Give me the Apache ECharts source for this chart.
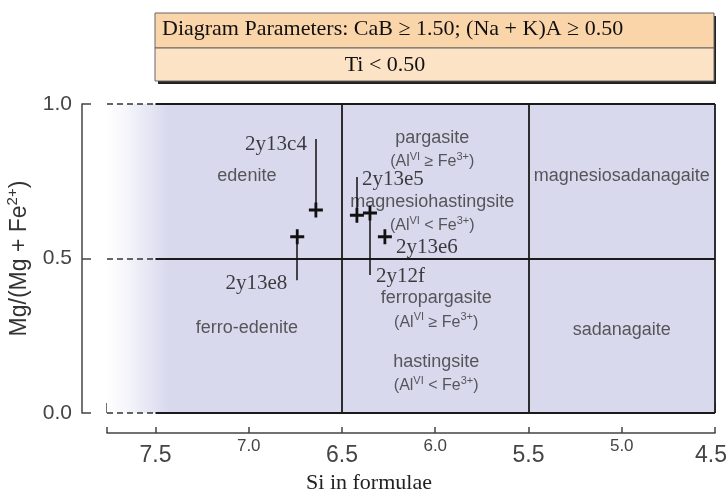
<!DOCTYPE html>
<html><head><meta charset="utf-8">
<script src="https://cdn.jsdelivr.net/npm/echarts@6/dist/echarts.min.js"></script>
<style>html,body{margin:0;padding:0;background:#fff}#c{width:728px;height:491px}</style>
</head><body><div id="c"></div>
<script>
// ---- data ----
const majorTickLabels = ['7.5', '6.5', '5.5', '4.5'];
const minorTickLabels = ['7.0', '6.0', '5.0'];
const yTickLabels = ['0.0', '0.5', '1.0'];

const pointNames = ['2y13c4', '2y13e8', '2y13e5', '2y12f', '2y13e6'];
const siValues   = [6.64, 6.74, 6.42, 6.35, 6.27];
const mgValues   = [0.657, 0.57, 0.64, 0.647, 0.57];
const leaderEnds = [0.887, 0.43, 0.764, 0.447, null];

const fieldNames = ['edenite', 'ferro-edenite', 'pargasite', 'magnesiohastingsite',
                    'ferropargasite', 'hastingsite', 'magnesiosadanagaite', 'sadanagaite'];
const fieldAlRelation = ['', '', '≥', '<', '≥', '<', '', ''];
const fieldSi = [7.01, 7.01, 6.016, 6.016, 5.995, 5.995, 5.0, 5.0];
const fieldMg = [0.767, 0.275, 0.851, 0.644, 0.333, 0.126, 0.767, 0.269];

const boundarySi = [6.5, 5.5, 4.5];
const boundaryMg = [1.0, 0.5, 0.0];
const fieldEdgeSi = 7.5;
const siMin = 4.5, siMax = 7.76;

const headerLine1 = 'Diagram Parameters: CaB ≥ 1.50; (Na + K)A ≥ 0.50';
const headerLine2 = 'Ti < 0.50';
const xTitle = 'Si in formulae';

// ---- styles ----
const SANS = '"Liberation Sans", Arial, sans-serif';
const SERIF = '"Liberation Serif", "Times New Roman", serif';
const lavender = '#d9d9ee';
const labelPlacement = [
  {position: 'left',  distance: 9,  offset: [0, 6]},
  {position: 'left',  distance: 10, offset: [0, 3]},
  {position: 'right', distance: 5,  offset: [0, 3]},
  {position: 'right', distance: 6,  offset: [0, 2]},
  {position: 'right', distance: 11, offset: [0, 11]}
];

// ---- build ----
const boundaryLines = [];
boundaryMg.forEach(m => {
  boundaryLines.push([{coord: [siMax, m], lineStyle: {type: [6, 4], width: 1.5, color: '#333'}}, {coord: [fieldEdgeSi, m]}]);
  boundaryLines.push([{coord: [fieldEdgeSi, m]}, {coord: [siMin, m]}]);
});
boundarySi.forEach(s => {
  boundaryLines.push([{coord: [s, 0]}, {coord: [s, 1]}]);
});

const leaderLines = [];
pointNames.forEach((n, i) => {
  if (leaderEnds[i] !== null) leaderLines.push([{coord: [siValues[i], mgValues[i]]}, {coord: [siValues[i], leaderEnds[i]]}]);
});

const pointData = pointNames.map((n, i) => [siValues[i], mgValues[i]]);
const labelData = pointNames.map((n, i) => ({
  value: [siValues[i], leaderEnds[i] !== null ? leaderEnds[i] : mgValues[i]],
  name: n,
  label: Object.assign({show: true, formatter: n}, labelPlacement[i])
}));

const fieldData = fieldNames.map((n, i) => {
  let f = '{m|' + n + '}';
  if (fieldAlRelation[i]) f += '\n{s|(Al}{sup|VI}{s| ' + fieldAlRelation[i] + ' Fe}{sup|3+}{s|)}';
  return {value: [fieldSi[i], fieldMg[i]], name: n, label: {formatter: f}};
});

const chart = echarts.init(document.getElementById('c'));
chart.setOption({
  animation: false,
  grid: {left: 107, right: 13, top: 104, bottom: 78, containLabel: false, outerBoundsMode: 'none'},
  xAxis: [{
    type: 'value', min: siMin, max: siMax, interval: 0.5, inverse: true,
    position: 'bottom', offset: 20,
    axisLine: {show: true, onZero: false, lineStyle: {color: '#444', width: 1.5}},
    axisTick: {show: true, inside: true, length: 6, lineStyle: {color: '#444', width: 1.5}},
    axisLabel: {
      fontSize: 17, color: '#444', fontFamily: SANS, margin: 5,
      formatter: v => { const t = v.toFixed(1); return minorTickLabels.includes(t) ? t : ''; }
    },
    splitLine: {show: false}
  }, {
    type: 'value', min: 0, max: siMax - siMin, interval: 1, inverse: true,
    position: 'bottom', offset: 20,
    axisLine: {show: false},
    axisTick: {show: true, inside: true, length: 10, lineStyle: {color: '#444', width: 1.5}},
    axisLabel: {
      fontSize: 23, color: '#444', fontFamily: SANS, margin: 11,
      formatter: v => {
        const t = (v + siMin).toFixed(1);
        if (!majorTickLabels.includes(t)) return '';
        return v === 0 ? '{r|' + t + '}' : t;
      },
      rich: {r: {fontSize: 23, color: '#444', fontFamily: SANS, padding: [0, 8, 0, 0]}}
    },
    splitLine: {show: false},
    name: xTitle, nameLocation: 'middle', nameGap: 35,
    nameTextStyle: {fontSize: 22, fontFamily: SERIF, color: '#222', padding: [0, 84, 0, 0]}
  }],
  yAxis: {
    type: 'value', min: 0, max: 1, interval: 0.5, offset: 25,
    axisLine: {show: true, onZero: false, lineStyle: {color: '#444', width: 1.5}},
    axisTick: {show: true, inside: true, length: 9, lineStyle: {color: '#444', width: 1.5}},
    axisLabel: {
      fontSize: 21, color: '#444', fontFamily: SANS, margin: 10,
      formatter: v => { const t = v.toFixed(1); return yTickLabels.includes(t) ? t : ''; }
    },
    splitLine: {show: false},
    name: '{n|Mg/(Mg + Fe}{sup|2+}{n|)}', nameLocation: 'middle', nameGap: 48,
    nameTextStyle: {
      rich: {
        n: {fontSize: 23, fontFamily: SANS, color: '#333'},
        sup: {fontSize: 15, fontFamily: SANS, color: '#333', padding: [0, 0, 14, 0]}
      }
    }
  },
  graphic: [
    {type: 'rect', shape: {x: 158, y: 16, width: 558, height: 68}, style: {fill: '#222'}, z: 10},
    {type: 'rect', shape: {x: 155, y: 13, width: 559, height: 35}, style: {fill: '#fbd5aa', stroke: '#666', lineWidth: 1}, z: 11},
    {type: 'rect', shape: {x: 155, y: 48, width: 559, height: 33}, style: {fill: '#fde3c6', stroke: '#666', lineWidth: 1}, z: 11},
    {type: 'text', style: {text: headerLine1, x: 162, y: 29, font: '22px ' + SERIF, fill: '#111', textAlign: 'left', verticalAlign: 'middle'}, z: 12},
    {type: 'text', style: {text: headerLine2, x: 385, y: 65, font: '22px ' + SERIF, fill: '#111', textAlign: 'center', verticalAlign: 'middle'}, z: 12}
  ],
  series: [
    {
      name: 'background', type: 'scatter', data: [], silent: true, z: 1,
      markArea: {
        silent: true,
        itemStyle: {
          color: {type: 'linear', x: 0, y: 0, x2: 1, y2: 0,
            colorStops: [{offset: 0, color: '#ffffff'}, {offset: 0.03, color: '#f6f6fb'}, {offset: 0.1, color: lavender}, {offset: 1, color: lavender}]}
        },
        data: [[{coord: [siMax, 0]}, {coord: [siMin, 1]}]]
      }
    },
    {
      name: 'boundaries', type: 'scatter', data: [], silent: true, z: 2,
      markLine: {
        silent: true, symbol: ['none', 'none'], label: {show: false},
        lineStyle: {type: 'solid', color: '#1a1a1a', width: 1.8},
        data: boundaryLines
      }
    },
    {
      name: 'fields', type: 'scatter', data: fieldData, symbolSize: 0, silent: true, z: 3,
      label: {
        show: true, position: 'inside', align: 'center', verticalAlign: 'middle',
        rich: {
          m: {fontSize: 18, fontFamily: SANS, color: '#333', lineHeight: 24, align: 'center'},
          s: {fontSize: 16, fontFamily: SANS, color: '#333', lineHeight: 24},
          sup: {fontSize: 11, fontFamily: SANS, color: '#333', padding: [0, 0, 10, 0]}
        }
      }
    },
    {
      name: 'leaders', type: 'scatter', data: [], silent: true, z: 4,
      markLine: {
        silent: true, symbol: ['none', 'none'], label: {show: false},
        lineStyle: {type: 'solid', color: '#111', width: 1.5},
        data: leaderLines
      }
    },
    {
      name: 'samples', type: 'scatter', data: pointData, silent: true, z: 5,
      symbol: 'path://M4,0H6V4H10V6H6V10H4V6H0V4H4Z', symbolSize: [14, 15],
      itemStyle: {color: '#111', opacity: 1}
    },
    {
      name: 'sampleLabels', type: 'scatter', data: labelData, symbolSize: 0, silent: true, z: 6,
      label: {show: true, fontSize: 21, fontFamily: SERIF, color: '#111'}
    }
  ]
});
</script></body></html>
